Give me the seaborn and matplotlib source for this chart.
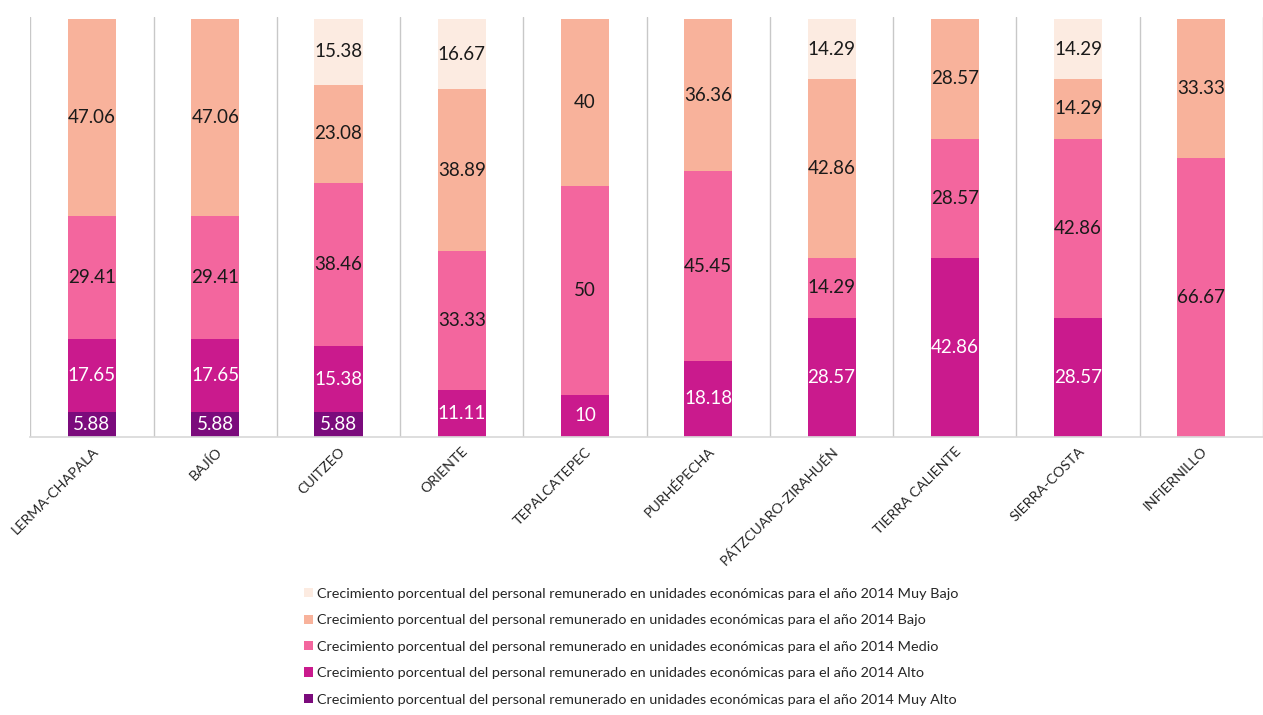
import matplotlib.pyplot as plt
import seaborn as sns
import numpy as np
import pandas as pd
from matplotlib.patches import Patch

# Datos: regiones y porcentajes por nivel de crecimiento
regiones = ['LERMA-CHAPALA', 'BAJÍO', 'CUITZEO', 'ORIENTE', 'TEPALCATEPEC',
            'PURHÉPECHA', 'PÁTZCUARO-ZIRAHUÉN', 'TIERRA CALIENTE', 'SIERRA-COSTA',
            'INFIERNILLO']
muy_alto = [5.88, 5.88, 5.88, 0, 0, 0, 0, 0, 0, 0]
alto = [17.65, 17.65, 15.38, 11.11, 10, 18.18, 28.57, 42.86, 28.57, 0]
medio = [29.41, 29.41, 38.46, 33.33, 50, 45.45, 14.29, 28.57, 42.86, 66.67]
bajo = [47.06, 47.06, 23.08, 38.89, 40, 36.36, 42.86, 28.57, 14.29, 33.33]
muy_bajo = [0, 0, 15.38, 16.67, 0, 0, 14.29, 0, 14.29, 0]

prefijo = 'Crecimiento porcentual del personal remunerado en unidades económicas para el año 2014 '
niveles = ['Muy Alto', 'Alto', 'Medio', 'Bajo', 'Muy Bajo']
colores = ['#7B0B7C', '#CA1A8D', '#F3669E', '#F8B29B', '#FCEBE1']
color_texto = ['white', 'white', '#1a1a1a', '#1a1a1a', '#1a1a1a']

sns.set_theme(style='white')
plt.rcParams['font.family'] = ['Lato', 'DejaVu Sans']

df = pd.DataFrame({'region': regiones, 'Muy Alto': muy_alto, 'Alto': alto,
                   'Medio': medio, 'Bajo': bajo, 'Muy Bajo': muy_bajo})
# gráfico 100% apilado: normalizar cada barra
valores = df[niveles].to_numpy(dtype=float)
pct = valores / valores.sum(axis=1, keepdims=True) * 100
acum = np.cumsum(pct, axis=1)

fig = plt.figure(figsize=(12.63, 7.15), dpi=100)
ax = fig.add_axes([0.024, 0.389, 0.976, 0.587])

# dibujar de arriba hacia abajo (acumulados) para simular el apilado
for i in range(len(niveles) - 1, -1, -1):
    sns.barplot(x=df['region'], y=acum[:, i], color=colores[i], width=0.39,
                saturation=1, ax=ax, edgecolor='none', linewidth=0)

# etiquetas de datos
for j in range(len(regiones)):
    base = 0
    for i, nivel in enumerate(niveles):
        v = valores[j, i]
        h = pct[j, i]
        if v > 0:
            etiqueta = f'{v:g}'
            ax.text(j, base + h / 2, etiqueta, ha='center', va='center',
                    fontsize=13.5, color=color_texto[i])
        base += h

ax.set_xlim(-0.5, len(regiones) - 0.5)
ax.set_ylim(0, 100.5)
ax.set_yticks([])
ax.set_xlabel('')
ax.set_ylabel('')
for k in range(len(regiones) + 1):
    ax.axvline(k - 0.5, color='#c8c8c8', lw=1, zorder=0)
for s in ['top', 'left', 'right']:
    ax.spines[s].set_visible(False)
ax.spines['bottom'].set_color('#d9d9d9')
ax.tick_params(axis='x', length=0, pad=6)
plt.setp(ax.get_xticklabels(), rotation=45, ha='right', rotation_mode='anchor',
         fontsize=10.3)

handles = [Patch(facecolor=colores[i], edgecolor='none', label=prefijo + niveles[i])
           for i in range(len(niveles) - 1, -1, -1)]
fig.legend(handles=handles, loc='upper left', bbox_to_anchor=(0.235, 0.188),
           frameon=False, fontsize=10.4, handlelength=0.6, handleheight=0.6,
           handletextpad=0.3, labelspacing=1.0, borderpad=0)

fig.savefig('out.png', dpi=100)
